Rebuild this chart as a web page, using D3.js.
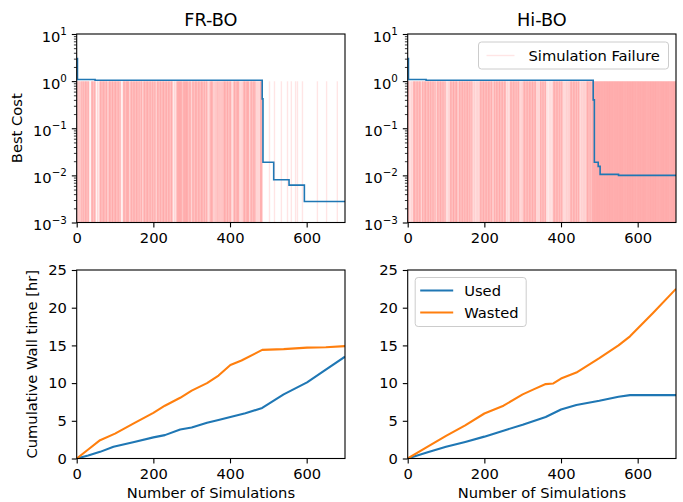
<!DOCTYPE html>
<html>
<head>
<meta charset="utf-8">
<script src="https://cdn.jsdelivr.net/npm/d3@7"></script>
<style>
  body { margin: 0; background: #fff; }
  text { font-family: "DejaVu Sans", sans-serif; fill: #000; }
</style>
</head>
<body>
<div class="svg-container"></div>
<script>
// ---- data ----
var titles = ["FR-BO", "Hi-BO"];
var simTicks = [0, 200, 400, 600];
var costTicks = [1e-3, 1e-2, 1e-1, 1e0, 1e1];
var wallTicks = [0, 5, 10, 15, 20, 25];

// best cost (step curves)
var frCostX = [0, 2, 48, 484, 486, 514, 554, 594, 700];
var frCostY = [3.0, 1.08, 1.04, 0.42, 0.019, 0.0081, 0.0062, 0.0028, 0.0028];
var hiCostX = [0, 2, 48, 484, 487, 497, 502, 550, 700];
var hiCostY = [3.0, 1.08, 1.04, 0.40, 0.019, 0.0155, 0.0105, 0.0100, 0.0100];

// simulation failures: every index in the range fails except the listed successes, plus extra isolated failures
var frFailRange = [0, 484];
var frSuccess = [3, 4, 8, 9, 14, 20, 27, 33, 34, 35, 36, 37, 44, 50, 51, 52, 53, 55, 57, 58, 59, 66, 74, 81, 82,
  90, 97, 105, 112, 116, 117, 118, 119, 120, 127, 138, 139, 146, 153, 160, 166, 172, 173, 180, 188, 195, 201,
  207, 208, 215, 222, 230, 237, 244, 251, 252, 253, 255, 257, 258, 260, 276, 292, 299, 300, 307, 315, 322, 330,
  336, 342, 343, 345, 347, 356, 358, 360, 363, 366, 370, 373, 376, 379, 382, 390, 397, 404, 405, 407, 408, 415,
  425, 426, 428, 430, 432, 434, 441, 451, 452, 459, 466, 469, 470, 472, 474, 476, 477];
var frFailExtra = [503, 516, 534, 550, 560, 571, 576, 589, 628, 652, 680];

var hiFailRange = [0, 700];
var hiSuccess = [4, 5, 7, 8, 10, 12, 13, 21, 28, 35, 36, 42, 50, 57, 63, 69, 74, 75, 82, 89, 95, 100, 101, 103,
  104, 106, 108, 109, 116, 123, 131, 132, 139, 146, 152, 159, 165, 170, 171, 173, 175, 177, 178, 180, 182, 184,
  186, 187, 194, 201, 208, 215, 222, 223, 229, 236, 243, 250, 257, 258, 260, 262, 263, 265, 266, 273, 280, 286,
  292, 293, 295, 297, 299, 301, 308, 315, 322, 329, 336, 337, 339, 341, 343, 344, 350, 356, 362, 363, 364, 366,
  367, 368, 370, 371, 373, 374, 376, 377, 379, 386, 393, 399, 405, 406, 408, 410, 411, 413, 415, 417, 419, 421,
  423, 430, 437, 443, 449, 450, 452, 454, 456, 458, 460, 462, 464, 466, 473, 479];
var hiFailExtra = [];

// cumulative wall time [hr]
var frUsedX = [0, 30, 61, 96, 150, 200, 230, 270, 300, 340, 370, 401, 440, 484, 540, 601, 650, 700];
var frUsedY = [0, 0.4, 0.88, 1.55, 2.2, 2.8, 3.1, 3.85, 4.1, 4.73, 5.1, 5.5, 6.0, 6.7, 8.5, 10.1, 11.8, 13.5];
var frWastedX = [0, 30, 61, 100, 150, 200, 230, 270, 300, 340, 370, 401, 430, 484, 540, 601, 650, 700];
var frWastedY = [0, 1.2, 2.43, 3.3, 4.7, 6.06, 7.0, 8.05, 9.0, 10.0, 11.0, 12.4, 13.0, 14.4, 14.5, 14.7, 14.75, 14.9];
var hiUsedX = [0, 50, 100, 150, 200, 260, 300, 360, 400, 440, 500, 550, 580, 700];
var hiUsedY = [0, 0.8, 1.55, 2.2, 2.9, 3.85, 4.47, 5.5, 6.5, 7.1, 7.65, 8.2, 8.4, 8.4];
var hiWastedX = [0, 50, 100, 150, 200, 250, 300, 330, 360, 380, 400, 440, 500, 550, 580, 640, 700];
var hiWastedY = [0, 1.5, 3.0, 4.4, 5.97, 7.0, 8.5, 9.2, 9.87, 9.95, 10.6, 11.4, 13.3, 15.0, 16.2, 19.3, 22.5];

var blue = "#1f77b4", orange = "#ff7f0e";
var fs = "14.7px";

// ---- layout ----
var lefts = [76.7, 407.7], tops = [34, 270];
var width = 268.3, height = 188.5;

var svg = d3.select(".svg-container").append("svg")
    .attr("width", 683)
    .attr("height", 502);

function failures(range, success, extra) {
    var out = [];
    for (var i = range[0]; i <= range[1]; i++) {
        if (success.indexOf(i) < 0) out.push(i);
    }
    return out.concat(extra);
}

function zip(xs, ys) {
    return xs.map(function(x, i) { return {x: x, y: ys[i]}; });
}

function styleAxis(g) {
    g.select(".domain").remove();
    g.selectAll(".tick line").attr("stroke", "#000").attr("stroke-width", 1.1);
    g.selectAll(".tick text").attr("font-size", fs).attr("fill", "#000");
}

function frame(g) {
    g.append("rect")
        .attr("width", width).attr("height", height)
        .attr("fill", "none").attr("stroke", "#000").attr("stroke-width", 1.1);
}

function xAxis(g, x) {
    var ax = g.append("g")
        .attr("transform", "translate(0," + height + ")")
        .call(d3.axisBottom(x).tickValues(simTicks).tickSize(4.9).tickPadding(4.9)
            .tickFormat(d3.format("d")))
        .attr("font-family", null);
    styleAxis(ax);
}

function costPanel(col, costX, costY, fails) {
    var g = svg.append("g").attr("transform", "translate(" + lefts[col] + "," + tops[0] + ")");
    var x = d3.scaleLinear().domain([0, 700]).range([0, width]);
    var y = d3.scaleLog().domain([1e-3, 1e1]).range([height, 0]);

    g.append("clipPath").attr("id", "clipc" + col)
        .append("rect").attr("width", width).attr("height", height);
    var plot = g.append("g").attr("clip-path", "url(#clipc" + col + ")");

    // failure markers
    plot.append("g").selectAll("line")
        .data(fails)
        .enter().append("line")
        .attr("x1", function(d) { return x(d); })
        .attr("x2", function(d) { return x(d); })
        .attr("y1", y(1e-3))
        .attr("y2", y(1))
        .attr("stroke", "red")
        .attr("stroke-opacity", 0.1)
        .attr("stroke-width", 1.4);

    var line = d3.line()
        .curve(d3.curveStepAfter)
        .x(function(d) { return x(d.x); })
        .y(function(d) { return y(d.y); });
    plot.append("path")
        .datum(zip(costX, costY))
        .attr("fill", "none")
        .attr("stroke", blue)
        .attr("stroke-width", 1.6)
        .attr("d", line);

    // minor ticks
    var minor = y.ticks().filter(function(d) { return costTicks.indexOf(d) < 0; });
    var my = g.append("g").call(d3.axisLeft(y).tickValues(minor).tickSize(2.8).tickFormat(""));
    styleAxis(my);
    my.selectAll(".tick line").attr("stroke-width", 0.8);

    var ay = g.append("g").call(d3.axisLeft(y).tickValues(costTicks).tickSize(4.9).tickPadding(4.9));
    styleAxis(ay);
    ay.selectAll(".tick text").each(function(d) {
        var e = Math.round(Math.log10(d));
        var t = d3.select(this).attr("dy", null).attr("y", 7.3);
        t.text("10");
        t.append("tspan")
            .attr("dy", -6.8)
            .attr("font-size", "10.3px")
            .text(e < 0 ? "\u2212" + (-e) : String(e));
    });

    xAxis(g, x);
    frame(g);

    g.append("text")
        .attr("x", width / 2).attr("y", -8)
        .attr("text-anchor", "middle")
        .attr("font-size", "17.7px")
        .text(titles[col]);
    return g;
}

function wallPanel(col, usedX, usedY, wastedX, wastedY) {
    var g = svg.append("g").attr("transform", "translate(" + lefts[col] + "," + tops[1] + ")");
    var x = d3.scaleLinear().domain([0, 700]).range([0, width]);
    var y = d3.scaleLinear().domain([0, 25]).range([height, 0]);

    g.append("clipPath").attr("id", "clipw" + col)
        .append("rect").attr("width", width).attr("height", height);
    var plot = g.append("g").attr("clip-path", "url(#clipw" + col + ")");

    var line = d3.line()
        .x(function(d) { return x(d.x); })
        .y(function(d) { return y(d.y); });
    plot.append("path").datum(zip(usedX, usedY))
        .attr("fill", "none").attr("stroke", blue).attr("stroke-width", 2.1)
        .attr("stroke-linejoin", "round").attr("d", line);
    plot.append("path").datum(zip(wastedX, wastedY))
        .attr("fill", "none").attr("stroke", orange).attr("stroke-width", 2.1)
        .attr("stroke-linejoin", "round").attr("d", line);

    var ay = g.append("g").call(d3.axisLeft(y).tickValues(wallTicks).tickSize(4.9).tickPadding(4.9));
    styleAxis(ay);

    xAxis(g, x);
    frame(g);

    g.append("text")
        .attr("x", width / 2).attr("y", height + 39)
        .attr("text-anchor", "middle")
        .attr("font-size", fs)
        .text("Number of Simulations");
    return g;
}

costPanel(0, frCostX, frCostY, failures(frFailRange, frSuccess, frFailExtra));
var hiCost = costPanel(1, hiCostX, hiCostY, failures(hiFailRange, hiSuccess, hiFailExtra));
wallPanel(0, frUsedX, frUsedY, frWastedX, frWastedY);
var hiWall = wallPanel(1, hiUsedX, hiUsedY, hiWastedX, hiWastedY);

// y labels
svg.append("text")
    .attr("transform", "translate(21.5," + (tops[0] + height / 2) + ") rotate(-90)")
    .attr("text-anchor", "middle").attr("font-size", fs)
    .text("Best Cost");
svg.append("text")
    .attr("transform", "translate(37," + (tops[1] + height / 2) + ") rotate(-90)")
    .attr("text-anchor", "middle").attr("font-size", fs)
    .text("Cumulative Wall time [hr]");

// legend: failures
var lg1 = hiCost.append("g").attr("transform", "translate(" + (width - 197.5) + ",8)");
lg1.append("rect")
    .attr("width", 190).attr("height", 27).attr("rx", 3)
    .attr("fill", "#fff").attr("fill-opacity", 0.8)
    .attr("stroke", "#ccc").attr("stroke-width", 1);
lg1.append("line")
    .attr("x1", 8).attr("x2", 36).attr("y1", 13.5).attr("y2", 13.5)
    .attr("stroke", "red").attr("stroke-opacity", 0.1).attr("stroke-width", 1.4);
lg1.append("text")
    .attr("x", 50).attr("y", 19).attr("font-size", fs)
    .text("Simulation Failure");

// legend: wall time
var lg2 = hiWall.append("g").attr("transform", "translate(7.5,7.5)");
lg2.append("rect")
    .attr("width", 111).attr("height", 49).attr("rx", 3)
    .attr("fill", "#fff").attr("fill-opacity", 0.8)
    .attr("stroke", "#ccc").attr("stroke-width", 1);
var entries = [{name: "Used", color: blue}, {name: "Wasted", color: orange}];
var rows = lg2.selectAll("g.row").data(entries).enter().append("g")
    .attr("class", "row")
    .attr("transform", function(d, i) { return "translate(0," + (13 + i * 22) + ")"; });
rows.append("line")
    .attr("x1", 5).attr("x2", 38)
    .attr("stroke", function(d) { return d.color; }).attr("stroke-width", 2.1);
rows.append("text")
    .attr("x", 49).attr("y", 5.3).attr("font-size", fs)
    .text(function(d) { return d.name; });
</script>
</body>
</html>
